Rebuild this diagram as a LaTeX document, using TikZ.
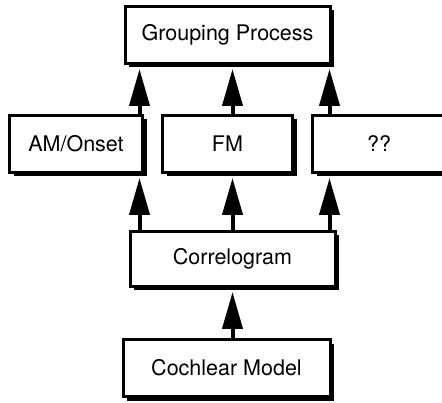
\documentclass[tikz,border=0pt]{standalone}
\usepackage{fontspec}
\setmainfont{TeX Gyre Heros}
\usetikzlibrary{positioning,shadows,arrows.meta}
\tikzset{
  blk/.style={draw,line width=3pt,fill=white,minimum height=57pt,
    font=\fontsize{21.5}{25}\selectfont,
    drop shadow={shadow xshift=4pt,shadow yshift=-4pt,opacity=1,fill=black}},
  feed/.style={line width=4pt,arrows={-Triangle[length=37pt,width=20pt]}}
}

\begin{document}
\begin{tikzpicture}[x=1pt,y=1pt]
\useasboundingbox (0,0) rectangle (442,402);
\node [blk,minimum width=207pt] (Coch) at (226.5,34) {Cochlear Model};
\node [blk,minimum width=205pt,minimum height=55pt,above=50pt of Coch,xshift=6pt] (Corr) {Correlogram};
\node [blk,minimum width=130pt,above=56pt of Corr,xshift=-5pt] (FM) {FM};
\node [blk,minimum width=133pt,left=17pt of FM] (AM) {AM/Onset};
\node [blk,minimum width=133pt,right=17pt of FM] (QQ) {??};
\node [blk,minimum width=205pt,above=49pt of FM] (Grp) {Grouping Process};
% feeds between the layers
\coordinate (cl) at ([xshift=11pt]Corr.north west);
\coordinate (cm) at (Corr.north);
\coordinate (cr) at ([xshift=-7pt]Corr.north east);
\draw [feed] (cm |- Coch.north) -- ([yshift=-4pt]cm |- Corr.south);
\foreach \c/\n in {cl/AM,cm/FM,cr/QQ} {
  \draw [feed] (\c) -- ([yshift=-4pt]\c |- \n.south);
  \draw [feed] (\c |- \n.north) -- ([yshift=-4pt]\c |- Grp.south);
}
\end{tikzpicture}
\end{document}
